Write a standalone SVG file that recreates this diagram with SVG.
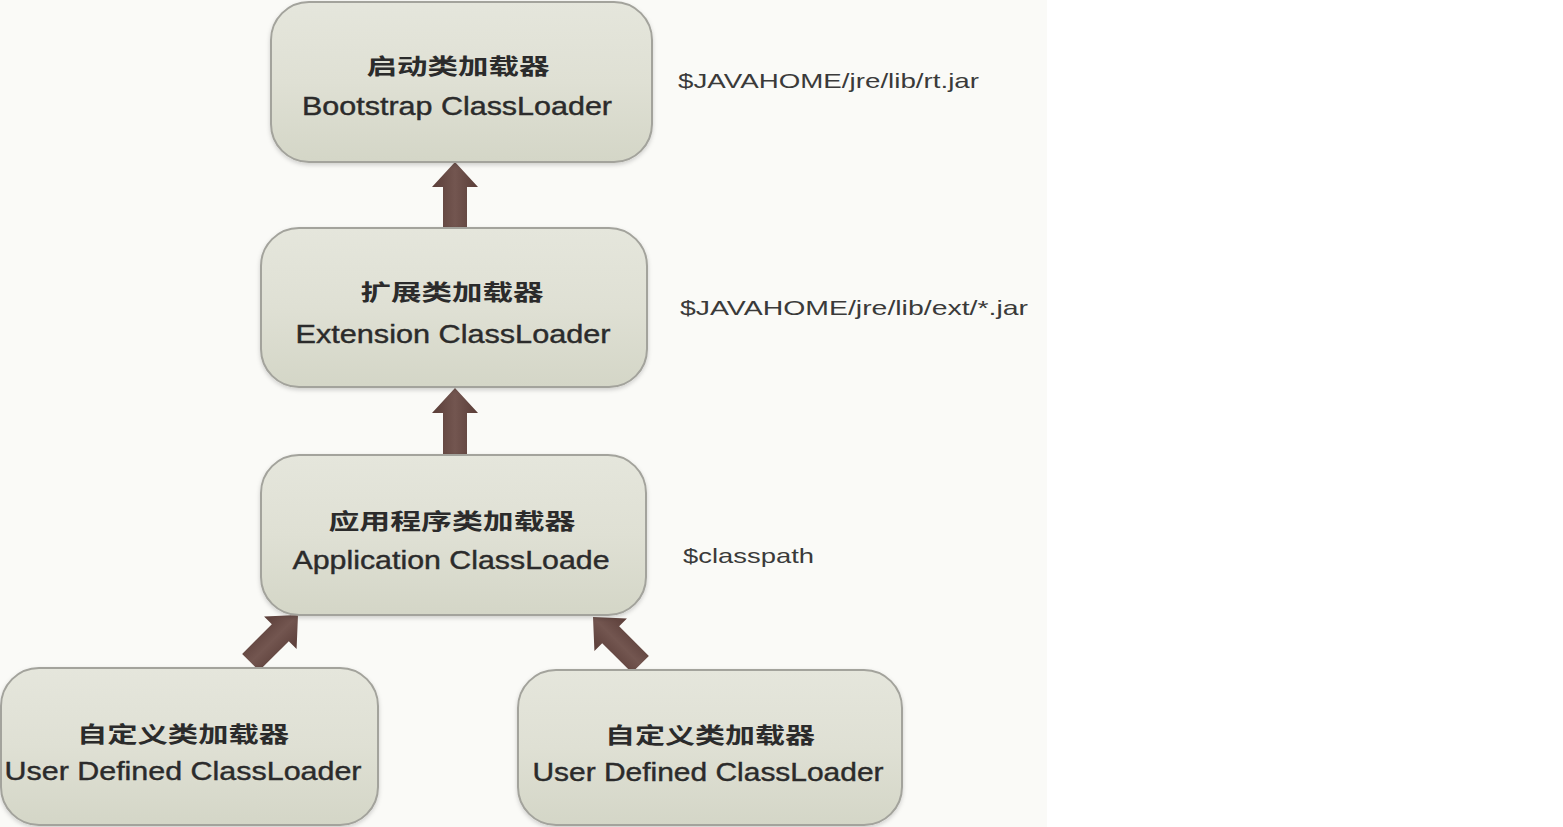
<svg xmlns="http://www.w3.org/2000/svg" width="1563" height="827" viewBox="0 0 1563 827">
<style>
  .box { fill: url(#boxGrad); stroke: #a3a39c; stroke-width: 2; filter: url(#shadow); }
  .cjk { font-family: "Noto Sans CJK SC", "Liberation Sans", sans-serif; font-size: 22px; fill: #2b2b2b; font-weight: 600; text-anchor: middle; }
  .en { font-family: "Liberation Sans", Arial, sans-serif; font-size: 25px; fill: #2b2b2b; stroke: #2b2b2b; stroke-width: 0.4; text-anchor: middle; }
  .path { font-family: "Liberation Sans", Arial, sans-serif; font-size: 21px; fill: #3a3a3a; }
  .arrow { fill: url(#arrowGrad); }
</style>
<defs>
  <linearGradient id="boxGrad" x1="0" y1="0" x2="0" y2="1">
    <stop offset="0" stop-color="#e5e6dc"/>
    <stop offset="0.5" stop-color="#dfe0d4"/>
    <stop offset="1" stop-color="#d4d6c7"/>
  </linearGradient>
  <linearGradient id="arrowGrad" x1="0" y1="0" x2="1" y2="0">
    <stop offset="0" stop-color="#5a3d38"/>
    <stop offset="0.5" stop-color="#735650"/>
    <stop offset="1" stop-color="#5a3d38"/>
  </linearGradient>
  <filter id="shadow" x="-5%" y="-5%" width="110%" height="115%">
    <feDropShadow dx="0" dy="2" stdDeviation="2" flood-color="#000" flood-opacity="0.18"/>
  </filter>
  <polygon id="blockArrow" points="0,0 23,25 12,25 12,67 -12,67 -12,25 -23,25"/>
</defs>
<rect x="0" y="0" width="1563" height="827" fill="#ffffff"/>
<rect x="0" y="0" width="1047" height="827" fill="#fafaf7"/>

<g id="connectors">
  <use href="#blockArrow" class="arrow" transform="translate(455,162)"/>
  <use href="#blockArrow" class="arrow" transform="translate(455,388)"/>
  <use href="#blockArrow" class="arrow" transform="translate(298,615) rotate(45)"/>
  <use href="#blockArrow" class="arrow" transform="translate(593,617) rotate(-45)"/>
</g>

<g id="bootstrap">
  <rect class="box" x="271" y="2" width="381" height="160" rx="38"/>
  <text class="cjk" x="458" y="74" textLength="183" lengthAdjust="spacingAndGlyphs">启动类加载器</text>
  <text class="en" x="457" y="115" textLength="310" lengthAdjust="spacingAndGlyphs">Bootstrap ClassLoader</text>
</g>

<g id="extension">
  <rect class="box" x="261" y="228" width="386" height="159" rx="38"/>
  <text class="cjk" x="452" y="300" textLength="183" lengthAdjust="spacingAndGlyphs">扩展类加载器</text>
  <text class="en" x="453" y="343" textLength="315" lengthAdjust="spacingAndGlyphs">Extension ClassLoader</text>
</g>

<g id="application">
  <rect class="box" x="261" y="455" width="385" height="160" rx="38"/>
  <text class="cjk" x="452" y="529" textLength="247" lengthAdjust="spacingAndGlyphs">应用程序类加载器</text>
  <text class="en" x="451" y="569" textLength="317" lengthAdjust="spacingAndGlyphs">Application ClassLoade</text>
</g>

<g id="user-defined-left">
  <rect class="box" x="1" y="668" width="377" height="157" rx="38"/>
  <text class="cjk" x="183" y="742" textLength="212" lengthAdjust="spacingAndGlyphs">自定义类加载器</text>
  <text class="en" x="183" y="780" textLength="357" lengthAdjust="spacingAndGlyphs">User Defined ClassLoader</text>
</g>

<g id="user-defined-right">
  <rect class="box" x="518" y="670" width="384" height="155" rx="38"/>
  <text class="cjk" x="710" y="743" textLength="210" lengthAdjust="spacingAndGlyphs">自定义类加载器</text>
  <text class="en" x="708" y="781" textLength="351" lengthAdjust="spacingAndGlyphs">User Defined ClassLoader</text>
</g>

<g id="paths">
  <text class="path" x="678" y="88" textLength="301" lengthAdjust="spacingAndGlyphs">$JAVAHOME/jre/lib/rt.jar</text>
  <text class="path" x="680" y="315" textLength="348" lengthAdjust="spacingAndGlyphs">$JAVAHOME/jre/lib/ext/*.jar</text>
  <text class="path" x="683" y="563" textLength="131" lengthAdjust="spacingAndGlyphs">$classpath</text>
</g>
</svg>
